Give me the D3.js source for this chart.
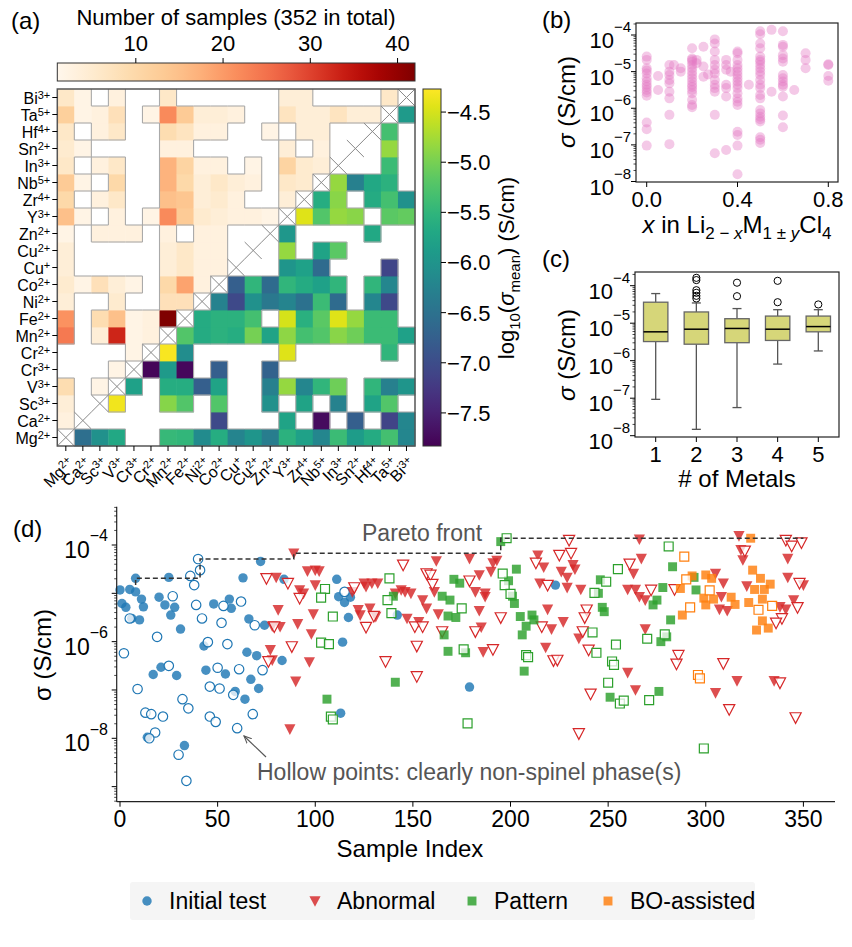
<!DOCTYPE html>
<html><head><meta charset="utf-8">
<script src="https://cdn.jsdelivr.net/npm/d3@7"></script>
<style>body{margin:0;background:#fff} svg text{font-family:"Liberation Sans",Arial,Helvetica,sans-serif;fill:#000}</style>
</head><body>
<svg id="fig" width="852" height="947"></svg>
<script>
// ================= DATA =================
// (a) heatmap
const metals  = ["Mg","Ca","Sc","V","Cr","Cr","Mn","Fe","Ni","Co","Cu","Cu","Zn","Y","Zr","Nb","In","Sn","Hf","Ta","Bi"];
const charges = ["2+","2+","3+","3+","3+","2+","2+","2+","2+","2+","+","2+","2+","3+","4+","5+","3+","2+","4+","5+","3+"];
const pairPartners = [
 [1,2,3,6,7,8,9,10,11,12,13,14,15,16,17,18,19,20],
 [9,13,15,17,19,20],
 [3,6,7,9,12,14,16,18,19],
 [4,6,7,8,9,12,13,14,15,16,18,19,20],
 [5,6,7,9,12],
 [6,7,13,19],
 [7,8,9,10,11,12,13,14,15,16,17,18,19,20],
 [8,9,10,11,13,14,15,16,17,18,19],
 [9,10,11,12,13,14,15,16,18,19],
 [10,11,12,13,14,15,16,18,19],
 [13,14,15,19],
 [13,15,16],
 [13,18],
 [14,15,16,17,19,20],
 [15,16,18,19,20],
 [16,17,18,19],
 [19],[19],[19],[20],[]
];
const pairCounts = [
 [3,4,9,24,21,4,5,4,4,2,15,10,13,6,5,6,12,6],
 [2,2,2,2,2,2],
 [2,4,9,8,3,3,3,3,3],
 [2,33,15,5,4,3,3,6,10,6,6,8,3],
 [2,2,2,2,3],
 [3,3,2,2],
 [42,8,10,4,4,3,22,15,17,17,3,9,22,6],
 [8,19,6,6,13,14,10,11,3,7,13],
 [3,3,3,3,5,4,4,3,3,4],
 [3,3,3,4,5,6,3,3,4],
 [3,3,4,3],
 [3,3,2],
 [2,2],
 [4,6,11,4,7,4],
 [5,5,4,4,4],
 [4,3,4,4],
 [7],[4],[4],[6],[]
];
const pairLogSigma = [
 [-6.55,-6.05,-5.7,-5.45,-5.48,-6.12,-5.62,-6.23,-5.98,-6.33,-5.55,-5.8,-6.19,-5.41,-5.87,-5.66,-5.34,-6.19],
 [-7.05,-5.77,-7.72,-6.76,-7.12,-6.19],
 [-4.34,-4.91,-5.23,-5.23,-6.05,-5.77,-6.25,-5.77,-5.23],
 [-5.8,-5.62,-5.62,-6.76,-5.77,-6.3,-4.84,-6.19,-5.5,-5.05,-5.5,-6.3,-5.98],
 [-7.78,-5.9,-7.76,-6.76,-6.72],
 [-4.3,-6.1,-4.45,-5.5],
 [-5.23,-5.65,-5.55,-5.62,-5.02,-5.77,-4.87,-5.34,-5.23,-4.9,-5.05,-5.41,-5.41,-5.8],
 [-5.65,-5.55,-5.55,-5.34,-4.5,-5.57,-5.18,-4.45,-4.84,-5.41,-5.41],
 [-6.25,-7.05,-6.05,-6.4,-6.23,-6.5,-5.41,-6.6,-6.19,-7.05],
 [-6.76,-5.5,-6.6,-5.5,-5.65,-5.8,-5.5,-5.5,-6.19],
 [-5.98,-5.8,-6.6,-7.1],
 [-4.84,-5.77,-5.18],
 [-5.95,-5.7],
 [-4.45,-5.23,-4.84,-4.9,-5.18,-5.12],
 [-5.62,-4.9,-5.65,-5.34,-6.05],
 [-4.84,-6.3,-5.7,-5.55],
 [-5.41],[-4.84],[-5.34],[-5.9],[]
];
const countTicks = [10,20,30,40];
const sigmaTicks = [-4.5,-5.0,-5.5,-6.0,-6.5,-7.0,-7.5];

// (b) x vs sigma (log10 S/cm)
const bX = [0,0.05,0.1,0.12,0.15,0.2,0.22,0.25,0.27,0.3,0.35,0.37,0.4,0.45,0.5,0.55,0.6,0.65,0.7,0.8];
const bLogSigma = [
 [-4.59,-4.68,-4.91,-4.97,-5.05,-5.18,-5.27,-5.36,-5.42,-5.5,-5.57,-5.66,-6.39,-6.57,-7.02],
 [-5.12,-5.5],
 [-4.82,-5.0,-5.09,-5.23,-5.32,-5.55,-5.73,-6.18,-6.98],
 [-4.82],
 [-4.91,-5.0],
 [-4.36,-4.64,-4.68,-4.73,-4.82,-4.91,-5.0,-5.09,-5.18,-5.27,-5.36,-5.42,-5.5,-5.59,-5.77,-5.91,-5.97],
 [-4.68,-4.77],
 [-4.32,-4.86,-5.14],
 [-5.08],
 [-4.12,-4.23,-4.45,-4.68,-4.82,-4.95,-5.05,-5.23,-5.36,-5.45,-5.55,-6.18,-7.23],
 [-4.68,-4.82,-4.95,-5.36,-5.45,-5.68,-7.14],
 [-5.0],
 [-4.45,-4.5,-4.68,-4.82,-4.91,-5.0,-5.09,-5.18,-5.27,-5.36,-5.45,-5.59,-5.73,-5.82,-5.91,-6.64,-6.73,-7.02,-7.8],
 [-5.36],
 [-3.9,-3.98,-4.23,-4.36,-4.59,-4.68,-4.73,-4.82,-4.91,-5.0,-5.09,-5.23,-5.36,-5.45,-5.64,-5.73,-6.05,-6.14,-6.23,-6.3,-6.36,-6.79,-6.86,-6.95],
 [-3.86,-5.55],
 [-3.9,-4.27,-4.32,-4.55,-4.64,-4.73,-5.09,-5.18,-5.27,-5.36,-5.41,-5.68,-6.2,-6.52],
 [-5.5],
 [-4.5,-4.68,-4.91],
 [-4.8,-4.82,-5.12,-5.25]
];
const bXTicks = [0.0,0.4,0.8];

// (c) box plot by number of metals (log10 S/cm)
const nMetals      = [1,2,3,4,5];
const boxWhiskLow  = [-7.03,-7.83,-7.25,-6.09,-5.74];
const boxQ1        = [-5.49,-5.56,-5.52,-5.46,-5.23];
const boxMedian    = [-5.23,-5.16,-5.14,-5.16,-5.09];
const boxQ3        = [-4.44,-4.70,-4.88,-4.81,-4.81];
const boxWhiskHigh = [-4.21,-4.46,-4.61,-4.64,-4.64];
const boxOutliers  = [[],[-3.79,-3.85,-4.12,-4.19,-4.27,-4.34],[-3.92,-4.28],[-3.87,-4.44],[-4.5]];

// (d) sample index vs sigma: [index, log10 sigma]
const initialFilled = [[0,-4.93],[5,-4.92],[8,-4.69],[8,-4.97],[1,-5.21],[3,-5.29],[6,-5.52],[10,-5.55],[11,-5.12],[12,-5.28],[20,-5.08],[23,-5.24],[25,-4.67],[26,-5.45],[28,-5.29],[31,-5.74],[17,-6.68],[21,-6.53],[29,-6.70],[33,-8.15],[14,-7.98],[43,-6.09],[44,-6.59],[48,-5.22],[54,-6.67],[56,-5.12],[57,-5.31],[59,-7.03],[64,-7.19],[63,-4.68],[66,-5.53],[65,-6.22],[67,-6.78],[70,-6.29],[71,-6.97],[72,-4.34],[74,-5.66],[83,-6.39],[84,-4.71],[111,-4.71],[112,-5.07],[115,-5.19],[117,-5.50],[114,-6.01],[113,-7.48],[118,-5.08],[142,-5.45],[223,-4.83],[179,-6.94]];
const initialHollow = [[2,-6.24],[5,-5.52],[9,-6.98],[13,-7.47],[16,-7.50],[19,-5.90],[18,-7.88],[22,-7.55],[25,-6.50],[27,-5.06],[15,-8.0],[30,-8.34],[32,-7.19],[35,-7.38],[34,-8.88],[36,-4.64],[38,-4.83],[40,-4.29],[41,-4.52],[39,-5.24],[42,-5.52],[45,-6.01],[46,-6.93],[50,-6.54],[51,-6.97],[52,-5.61],[53,-5.26],[55,-6.05],[58,-7.10],[60,-7.79],[61,-6.57],[62,-5.17],[46,-7.55],[49,-7.66],[68,-7.50],[69,-5.66],[73,-6.59],[115,-4.97]];
const abnormalFilled = [[89,-4.17],[96,-4.54],[100,-4.52],[102,-4.54],[80,-4.67],[92,-4.93],[94,-5.0],[100,-4.83],[119,-4.97],[125,-4.79],[126,-4.86],[129,-4.79],[132,-4.79],[81,-5.34],[99,-5.43],[122,-5.34],[123,-5.45],[128,-5.31],[131,-5.48],[141,-5.0],[144,-4.93],[146,-4.97],[149,-5.0],[155,-5.14],[157,-5.31],[147,-5.52],[153,-5.59],[78,-5.68],[82,-5.69],[91,-5.63],[98,-5.84],[77,-6.17],[78,-6.38],[97,-6.42],[90,-6.82],[87,-7.81],
 [162,-4.33],[179,-4.28],[193,-4.32],[191,-4.37],[184,-4.62],[190,-4.55],[161,-4.97],[163,-5.43],[182,-4.97],[187,-5.0],[187,-5.07],[184,-5.36],[185,-5.70],[186,-6.21],[214,-4.21],[217,-4.46],[226,-4.55],[229,-4.67],[232,-4.41],[233,-4.50],[215,-4.79],[229,-4.88],[236,-4.92],[219,-5.33],[221,-5.74],[227,-5.59],[235,-5.93],[218,-6.12],[266,-3.88],[267,-4.28],[263,-4.59],[260,-4.92],[264,-4.92],[266,-5.07],[269,-5.14],[269,-5.74],[260,-6.64],[264,-7.0],[317,-3.81],[318,-4.10],[319,-4.31],[309,-4.79],[308,-5.07],[307,-5.33],[311,-5.36],[321,-4.85],[316,-6.81],[305,-7.06],[342,-4.28],[342,-4.67],[350,-4.83],[345,-5.14],[341,-5.33],[338,-5.28],[335,-6.81],[305,-4.59]];
const abnormalHollow = [[75,-4.69],[86,-4.79],[92,-5.10],[79,-5.69],[88,-6.10],[76,-6.41],[120,-4.88],[130,-5.47],[126,-5.70],[145,-4.41],[151,-5.69],[155,-5.69],[136,-6.41],[152,-6.09],[152,-6.72],[157,-4.59],
 [159,-4.62],[160,-4.81],[179,-4.74],[195,-5.50],[182,-5.79],[191,-6.16],[165,-5.79],[213,-4.37],[219,-4.83],[225,-4.21],[231,-4.17],[230,-3.90],[239,-5.34],[238,-5.50],[237,-5.79],[240,-6.17],[216,-5.69],[222,-6.39],[224,-6.38],[241,-7.08],[235,-7.90],[261,-4.39],[272,-4.93],[284,-4.92],[286,-6.28],[285,-6.46],[309,-6.45],[312,-7.40],[320,-4.12],[341,-3.90],[344,-4.02],[349,-3.95],[348,-4.79],[347,-5.29],[339,-5.52],[336,-5.61],[338,-6.85],[346,-7.57]];
const patternFilled = [[140,-5.06],[106,-7.19],[141,-6.84],[195,-3.93],[203,-4.50],[171,-4.71],[174,-4.79],[165,-5.06],[169,-5.14],[168,-5.47],[172,-5.50],[166,-5.86],[168,-6.20],[177,-6.23],[199,-4.74],[201,-5.06],[202,-5.21],[205,-5.48],[211,-5.45],[212,-5.55],[208,-5.68],[206,-5.86],[207,-6.61],[246,-4.72],[245,-5.0],[247,-5.29],[248,-5.38],[251,-7.15],[283,-4.45],[278,-4.88],[275,-5.14],[273,-5.24],[282,-5.55],[280,-5.90],[277,-6.0],[276,-7.03],[294,-4.67],[295,-4.93]];
const patternHollow = [[105,-4.91],[103,-5.09],[109,-5.48],[103,-6.02],[107,-6.05],[108,-7.55],[109,-7.61],[138,-4.69],[137,-5.14],[139,-5.41],[198,-3.86],[281,-4.03],[255,-4.50],[196,-4.59],[197,-4.83],[200,-5.01],[175,-5.31],[176,-6.16],[208,-6.28],[209,-6.32],[178,-7.69],[249,-4.76],[243,-4.99],[242,-5.81],[244,-6.23],[254,-6.06],[252,-6.41],[253,-6.48],[250,-6.85],[256,-7.28],[258,-7.22],[271,-7.21],[270,-5.94],[279,-5.85],[299,-8.21]];
const boFilled = [[323,-3.86],[324,-4.52],[328,-4.69],[325,-4.92],[330,-4.92],[333,-4.81],[329,-5.12],[322,-5.19],[329,-5.57],[326,-5.76],[332,-5.72],[293,-4.64],[287,-4.90],[288,-5.45],[300,-4.62],[303,-4.69],[299,-5.10],[300,-5.24],[304,-5.12],[313,-5.08],[315,-5.23]];
const boHollow = [[289,-4.24],[290,-4.71],[292,-5.29],[302,-4.94],[327,-5.34],[334,-5.26],[296,-6.69],[297,-6.76]];
const paretoFront = [[8,-4.83],[8,-4.69],[41,-4.29],[89,-4.17],[195,-3.86],[350,-3.86]];
const dXTicks = [0,50,100,150,200,250,300,350];
const dYLabelExp = [-4,-6,-8];
const legendNames = ["Initial test","Abnormal","Pattern","BO-assisted"];
const legendColors = ["#1f77b4","#d62728","#2ca02c","#ff7f0e"];

// ================= DRAW =================
const svg = d3.select("#fig");
const TICK_FS = 22, EXP_FS = 15;

function expLabel(g, x, y, e, anchor, fs, efs) {
  const t = g.append("text").attr("x", x).attr("y", y).attr("text-anchor", anchor || "end").style("font-size", (fs||TICK_FS) + "px");
  t.append("tspan").text("10");
  t.append("tspan").attr("dy", -(fs||TICK_FS)*0.72).style("font-size", (efs||EXP_FS) + "px").text("\u2212" + Math.abs(e));
  return t;
}
function logMinor(lo, hi) {
  const out = [];
  for (let e = Math.floor(lo); e <= Math.ceil(hi); e++) for (let k = 1; k < 10; k++) {
    const v = e + Math.log10(k);
    if (v >= lo - 1e-9 && v <= hi + 1e-9) out.push({v, major: k === 1});
  }
  return out;
}

// ---------- Panel (a) ----------
const N = metals.length;
const hx0 = 57.3, hx1 = 415, hy0 = 89, hy1 = 446;
const xb = d3.scaleBand().domain(d3.range(N)).range([hx0, hx1]);
const yb = d3.scaleBand().domain(d3.range(N)).range([hy1, hy0]);
const cw = xb.bandwidth(), ch = yb.bandwidth();
const countColor = d3.scaleSequential(d3.interpolateOrRd).domain([1, 42]);
const sigmaColor = d3.scaleSequential(d3.interpolateViridis).domain([-7.83, -4.27]);

const cells = [];
pairPartners.forEach((list, i) => list.forEach((j, k) => {
  cells.push({row: j, col: i, fill: countColor(pairCounts[i][k])});
  cells.push({row: i, col: j, fill: sigmaColor(pairLogSigma[i][k])});
}));
const has = new Set(cells.map(d => d.row + "," + d.col));
const ga = svg.append("g");
ga.append("rect").attr("x", hx0).attr("y", hy0).attr("width", hx1 - hx0).attr("height", hy1 - hy0).attr("fill", "#fff");
ga.selectAll("rect.cell").data(cells).join("rect").attr("class", "cell")
  .attr("x", d => xb(d.col)).attr("y", d => yb(d.row))
  .attr("width", cw + 0.4).attr("height", ch + 0.4).attr("fill", d => d.fill);
const segs = [];
cells.forEach(d => {
  const x = xb(d.col), y = yb(d.row);
  [[d.row, d.col - 1, x, y, x, y + ch], [d.row, d.col + 1, x + cw, y, x + cw, y + ch],
   [d.row + 1, d.col, x, y, x + cw, y], [d.row - 1, d.col, x, y + ch, x + cw, y + ch]]
  .forEach(([r, c, x1, y1, x2, y2]) => {
    if (r >= 0 && r < N && c >= 0 && c < N && !has.has(r + "," + c)) segs.push([x1, y1, x2, y2]);
  });
});
ga.selectAll("line.seg").data(segs).join("line").attr("class", "seg")
  .attr("x1", d => d[0]).attr("y1", d => d[1]).attr("x2", d => d[2]).attr("y2", d => d[3])
  .attr("stroke", "#aaa").attr("stroke-width", 1.1);
d3.range(N).forEach(i => {
  const x = xb(i), y = yb(i);
  ga.append("path").attr("d", `M${x},${y}L${x + cw},${y + ch}M${x + cw},${y}L${x},${y + ch}`)
    .attr("stroke", "#888").attr("stroke-width", 1).attr("fill", "none");
});
ga.append("rect").attr("x", hx0).attr("y", hy0).attr("width", hx1 - hx0).attr("height", hy1 - hy0)
  .attr("fill", "none").attr("stroke", "#555").attr("stroke-width", 1.5);
// y labels
d3.range(N).forEach(i => {
  const cy = yb(i) + ch / 2;
  ga.append("line").attr("x1", hx0 - 5).attr("x2", hx0).attr("y1", cy).attr("y2", cy).attr("stroke", "#000");
  const t = ga.append("text").attr("x", hx0 - 7).attr("y", cy + 6).attr("text-anchor", "end").style("font-size", "16px");
  t.append("tspan").text(metals[i]);
  t.append("tspan").attr("dy", -5).style("font-size", "11px").text(charges[i]);
});
// x labels
d3.range(N).forEach(i => {
  const cx = xb(i) + cw / 2;
  ga.append("line").attr("x1", cx).attr("x2", cx).attr("y1", hy1).attr("y2", hy1 + 5).attr("stroke", "#000");
  const t = ga.append("text").attr("transform", `translate(${cx + 5},${hy1 + 14}) rotate(-45)`)
    .attr("text-anchor", "end").attr("dy", "0.35em").style("font-size", "16px");
  t.append("tspan").text(metals[i]);
  t.append("tspan").attr("dy", -5).style("font-size", "11px").text(charges[i]);
});
// top colorbar (counts)
const defs = svg.append("defs");
const g1 = defs.append("linearGradient").attr("id", "gCount").attr("x1", "0%").attr("x2", "100%").attr("y1", "0%").attr("y2", "0%");
d3.range(0, 1.0001, 0.05).forEach(t => g1.append("stop").attr("offset", t * 100 + "%").attr("stop-color", countColor(1 + 41 * t)));
const cbx = d3.scaleLinear().domain([1, 42]).range([hx0, hx1]);
ga.append("rect").attr("x", hx0).attr("y", 63).attr("width", hx1 - hx0).attr("height", 18).attr("fill", "url(#gCount)").attr("stroke", "#333").attr("stroke-width", 1);
countTicks.forEach(v => {
  ga.append("line").attr("x1", cbx(v)).attr("x2", cbx(v)).attr("y1", 63).attr("y2", 58).attr("stroke", "#000");
  ga.append("text").attr("x", cbx(v)).attr("y", 51).attr("text-anchor", "middle").style("font-size", "22px").text(v);
});
svg.append("text").attr("x", 236).attr("y", 25).attr("text-anchor", "middle").style("font-size", "22px").text("Number of samples (352 in total)");
svg.append("text").attr("x", 11).attr("y", 29).style("font-size", "24px").text("(a)");
// right colorbar (sigma)
const g2 = defs.append("linearGradient").attr("id", "gSig").attr("x1", "0%").attr("x2", "0%").attr("y1", "100%").attr("y2", "0%");
d3.range(0, 1.0001, 0.05).forEach(t => g2.append("stop").attr("offset", t * 100 + "%").attr("stop-color", sigmaColor(-7.83 + 3.56 * t)));
const cby = d3.scaleLinear().domain([-7.83, -4.27]).range([hy1, hy0]);
ga.append("rect").attr("x", 423).attr("y", hy0).attr("width", 18).attr("height", hy1 - hy0).attr("fill", "url(#gSig)").attr("stroke", "#333").attr("stroke-width", 1);
sigmaTicks.forEach(v => {
  ga.append("line").attr("x1", 441).attr("x2", 446).attr("y1", cby(v)).attr("y2", cby(v)).attr("stroke", "#000");
  ga.append("text").attr("x", 447).attr("y", cby(v) + 8).style("font-size", "22px").text("\u2212" + Math.abs(v).toFixed(1));
});
{
  const t = ga.append("text").attr("transform", "translate(514,268) rotate(-90)").attr("text-anchor", "middle").style("font-size", "22px");
  t.append("tspan").text("log");
  t.append("tspan").attr("dy", 6).style("font-size", "15px").text("10");
  t.append("tspan").attr("dy", -6).text("(");
  t.append("tspan").style("font-style", "italic").text("\u03C3");
  t.append("tspan").attr("dy", 6).style("font-size", "15px").text("mean");
  t.append("tspan").attr("dy", -6).text(") (S/cm)");
}

// ---------- Panel (b) ----------
const gb = svg.append("g");
const bL = 636, bR = 838, bT = 23, bB = 182;
const bx = d3.scaleLinear().domain([0, 0.8]).range([646.7, 828.3]);
const by = d3.scaleLog().domain([1e-8, 1e-4]).range([181.5, 35]);
const bPts = [];
bX.forEach((x, i) => bLogSigma[i].forEach(v => bPts.push([x, v])));
gb.selectAll("circle").data(bPts).join("circle")
  .attr("cx", d => bx(d[0])).attr("cy", d => by(Math.pow(10, d[1]))).attr("r", 5)
  .attr("fill", "#e377c2").attr("fill-opacity", 0.4);
gb.append("rect").attr("x", bL).attr("y", bT).attr("width", bR - bL).attr("height", bB - bT).attr("fill", "none").attr("stroke", "#222").attr("stroke-width", 1.2);
bXTicks.forEach(v => {
  gb.append("line").attr("x1", bx(v)).attr("x2", bx(v)).attr("y1", bB).attr("y2", bB + 5).attr("stroke", "#000");
  gb.append("text").attr("x", bx(v)).attr("y", 207).attr("text-anchor", "middle").style("font-size", TICK_FS + "px").text(v.toFixed(1));
});
const bLo = Math.log10(by.invert(bB)), bHi = Math.log10(by.invert(bT));
logMinor(bLo, bHi).forEach(t => {
  const y = by(Math.pow(10, t.v));
  gb.append("line").attr("x1", bL).attr("x2", bL - (t.major ? 5 : 2.5)).attr("y1", y).attr("y2", y).attr("stroke", "#000").attr("stroke-width", t.major ? 1 : 0.7);
  if (t.major) expLabel(gb, 631, y + 13, Math.round(t.v));
});
{
  const t = gb.append("text").attr("transform", "translate(575,102) rotate(-90)").attr("text-anchor", "middle").style("font-size", "24px");
  t.append("tspan").style("font-style", "italic").text("\u03C3");
  t.append("tspan").text(" (S/cm)");
  const u = gb.append("text").attr("x", 737).attr("y", 233).attr("text-anchor", "middle").style("font-size", "24px");
  u.append("tspan").style("font-style", "italic").text("x");
  u.append("tspan").text(" in Li");
  u.append("tspan").attr("dy", 6).style("font-size", "17px").text("2 \u2212 ");
  u.append("tspan").style("font-size", "17px").style("font-style", "italic").text("x");
  u.append("tspan").attr("dy", -6).text("M");
  u.append("tspan").attr("dy", 6).style("font-size", "17px").text("1 \u00B1 ");
  u.append("tspan").style("font-size", "17px").style("font-style", "italic").text("y");
  u.append("tspan").attr("dy", -6).text("Cl");
  u.append("tspan").attr("dy", 6).style("font-size", "17px").text("4");
}
svg.append("text").attr("x", 542).attr("y", 28).style("font-size", "24px").text("(b)");

// ---------- Panel (c) ----------
const gc = svg.append("g");
const cL = 635, cR = 839, cT = 272, cB = 437;
const cx = d3.scaleLinear().domain([1, 5]).range([655.7, 818.3]);
const cy = d3.scaleLog().domain([1e-8, 1e-4]).range([435.7, 285.7]);
const P = v => cy(Math.pow(10, v));
const bw = (cx(2) - cx(1)) * 0.6;
nMetals.forEach((n, i) => {
  const x = cx(n);
  gc.append("line").attr("x1", x).attr("x2", x).attr("y1", P(boxQ3[i])).attr("y2", P(boxWhiskHigh[i])).attr("stroke", "#555").attr("stroke-width", 1.3);
  gc.append("line").attr("x1", x).attr("x2", x).attr("y1", P(boxQ1[i])).attr("y2", P(boxWhiskLow[i])).attr("stroke", "#555").attr("stroke-width", 1.3);
  [boxWhiskHigh[i], boxWhiskLow[i]].forEach(v => gc.append("line").attr("x1", x - 4.5).attr("x2", x + 4.5).attr("y1", P(v)).attr("y2", P(v)).attr("stroke", "#555").attr("stroke-width", 1.3));
  gc.append("rect").attr("x", x - bw / 2).attr("y", P(boxQ3[i])).attr("width", bw).attr("height", P(boxQ1[i]) - P(boxQ3[i]))
    .attr("fill", "#d6d679").attr("stroke", "#666").attr("stroke-width", 1.3);
  gc.append("line").attr("x1", x - bw / 2).attr("x2", x + bw / 2).attr("y1", P(boxMedian[i])).attr("y2", P(boxMedian[i])).attr("stroke", "#000").attr("stroke-width", 1.5);
  boxOutliers[i].forEach(v => gc.append("circle").attr("cx", x).attr("cy", P(v)).attr("r", 3.6).attr("fill", "none").attr("stroke", "#000").attr("stroke-width", 1));
  gc.append("line").attr("x1", x).attr("x2", x).attr("y1", cB).attr("y2", cB + 5).attr("stroke", "#000");
  gc.append("text").attr("x", x).attr("y", 462).attr("text-anchor", "middle").style("font-size", TICK_FS + "px").text(n);
});
gc.append("rect").attr("x", cL).attr("y", cT).attr("width", cR - cL).attr("height", cB - cT).attr("fill", "none").attr("stroke", "#222").attr("stroke-width", 1.2);
const cLo = Math.log10(cy.invert(cB)), cHi = Math.log10(cy.invert(cT));
logMinor(cLo, cHi).forEach(t => {
  const y = cy(Math.pow(10, t.v));
  gc.append("line").attr("x1", cL).attr("x2", cL - (t.major ? 5 : 2.5)).attr("y1", y).attr("y2", y).attr("stroke", "#000").attr("stroke-width", t.major ? 1 : 0.7);
  if (t.major) expLabel(gc, 630, y + 13, Math.round(t.v));
});
{
  const t = gc.append("text").attr("transform", "translate(575,355) rotate(-90)").attr("text-anchor", "middle").style("font-size", "24px");
  t.append("tspan").style("font-style", "italic").text("\u03C3");
  t.append("tspan").text(" (S/cm)");
  gc.append("text").attr("x", 737).attr("y", 487).attr("text-anchor", "middle").style("font-size", "24px").text("# of Metals");
}
svg.append("text").attr("x", 542).attr("y", 267).style("font-size", "24px").text("(c)");

// ---------- Panel (d) ----------
const gd = svg.append("g");
const dL = 116.7, dB = 801.7, dT = 506.7, dR = 835;
const dx = d3.scaleLinear().domain([0, 350]).range([120, 803.4]);
const dy = d3.scaleLog().domain([1e-8, 1e-4]).range([738.3, 545]);
const DY = v => dy(Math.pow(10, v));
const triDown = {draw(ctx, size) { const r = Math.sqrt(size) / 2; ctx.moveTo(-r, -r * 0.85); ctx.lineTo(r, -r * 0.85); ctx.lineTo(0, r * 1.05); ctx.closePath(); }};
const sym = {
  circle: d3.symbol().type(d3.symbolCircle).size(70),
  tri: d3.symbol().type(triDown).size(125),
  square: d3.symbol().type(d3.symbolSquare).size(80)
};
const groups = [
  {data: initialFilled, shape: "circle", color: legendColors[0], hollow: false},
  {data: initialHollow, shape: "circle", color: legendColors[0], hollow: true},
  {data: abnormalFilled, shape: "tri", color: legendColors[1], hollow: false},
  {data: abnormalHollow, shape: "tri", color: legendColors[1], hollow: true},
  {data: patternFilled, shape: "square", color: legendColors[2], hollow: false},
  {data: patternHollow, shape: "square", color: legendColors[2], hollow: true},
  {data: boFilled, shape: "square", color: legendColors[3], hollow: false},
  {data: boHollow, shape: "square", color: legendColors[3], hollow: true}
];
groups.forEach(gr => {
  gd.append("g").selectAll("path").data(gr.data).join("path")
    .attr("transform", d => `translate(${dx(d[0])},${DY(d[1])})`)
    .attr("d", sym[gr.shape])
    .attr("fill", gr.hollow ? "#fff" : gr.color)
    .attr("fill-opacity", gr.hollow ? 0.75 : 0.82)
    .attr("stroke", gr.hollow ? gr.color : "none")
    .attr("stroke-width", 1.2);
});
gd.append("path").datum(paretoFront)
  .attr("d", d3.line().x(d => dx(d[0])).y(d => DY(d[1])).curve(d3.curveStepAfter))
  .attr("fill", "none").attr("stroke", "#333").attr("stroke-width", 1.5).attr("stroke-dasharray", "5,3");
gd.append("text").attr("x", 362).attr("y", 541).style("font-size", "23px").style("fill", "#555").text("Pareto front");
gd.append("text").attr("x", 257).attr("y", 780).style("font-size", "23px").style("fill", "#555").text("Hollow points: clearly non-spinel phase(s)");
defs.append("marker").attr("id", "arr").attr("viewBox", "0 0 10 10").attr("refX", 9).attr("refY", 5)
  .attr("markerWidth", 7).attr("markerHeight", 7).attr("orient", "auto")
  .append("path").attr("d", "M0,1L9,5L0,9").attr("fill", "none").attr("stroke", "#555").attr("stroke-width", 1.3);
gd.append("line").attr("x1", 266).attr("y1", 757).attr("x2", 244).attr("y2", 736).attr("stroke", "#555").attr("stroke-width", 1.2).attr("marker-end", "url(#arr)");
gd.append("line").attr("x1", dL).attr("x2", dL).attr("y1", dT).attr("y2", dB).attr("stroke", "#222").attr("stroke-width", 1.2);
gd.append("line").attr("x1", dL).attr("x2", dR).attr("y1", dB).attr("y2", dB).attr("stroke", "#222").attr("stroke-width", 1.2);
dXTicks.forEach(v => {
  gd.append("line").attr("x1", dx(v)).attr("x2", dx(v)).attr("y1", dB).attr("y2", dB + 5).attr("stroke", "#000");
  gd.append("text").attr("x", dx(v)).attr("y", 827).attr("text-anchor", "middle").style("font-size", "23px").text(v);
});
const dLo = Math.log10(dy.invert(dB)), dHi = Math.log10(dy.invert(dT));
logMinor(dLo, dHi).forEach(t => {
  const y = dy(Math.pow(10, t.v));
  gd.append("line").attr("x1", dL).attr("x2", dL - (t.major ? 5 : 2.5)).attr("y1", y).attr("y2", y).attr("stroke", "#000").attr("stroke-width", t.major ? 1 : 0.7);
});
dYLabelExp.forEach(e => expLabel(gd, 108, DY(e) + 13, e, "end", 23, 16));
gd.append("text").attr("transform", "translate(51,655) rotate(-90)").attr("text-anchor", "middle").style("font-size", "24px").text("\u03C3 (S/cm)");
gd.append("text").attr("x", 410).attr("y", 857).attr("text-anchor", "middle").style("font-size", "24px").text("Sample Index");
svg.append("text").attr("x", 13).attr("y", 537).style("font-size", "24px").text("(d)");
// legend
const lg = svg.append("g");
lg.append("rect").attr("x", 130).attr("y", 882).attr("width", 625).attr("height", 38).attr("rx", 3).attr("fill", "#f5f5f5");
const legendShapes = ["circle", "tri", "square", "square"];
const legendMarkX = [147, 315, 472, 608];
legendNames.forEach((name, i) => {
  lg.append("path").attr("transform", `translate(${legendMarkX[i]},901)`).attr("d", sym[legendShapes[i]])
    .attr("fill", legendColors[i]).attr("fill-opacity", 0.82);
  lg.append("text").attr("x", legendMarkX[i] + 22).attr("y", 909).style("font-size", "23px").text(name);
});
</script></body></html>
